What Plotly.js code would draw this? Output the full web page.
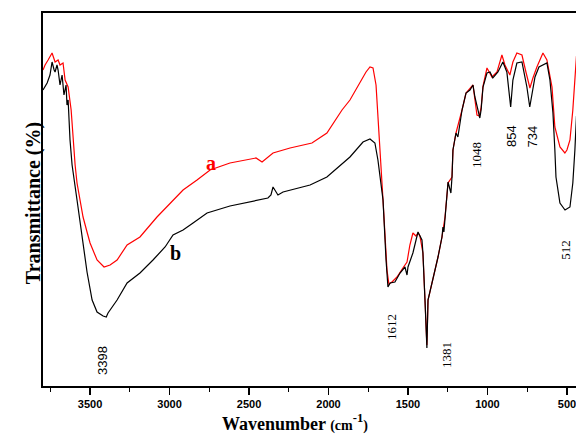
<!DOCTYPE html>
<html><head><meta charset="utf-8">
<script src="https://cdn.plot.ly/plotly-3.0.1.min.js"></script>
<style>html,body{margin:0;padding:0;background:#fff}#c{width:576px;height:434px}</style>
</head><body><div id="c"></div>
<script>
// Wavenumber (cm-1) and transmittance (arbitrary units)
const blackWn = [3796,3783,3770,3752,3739,3726,3720,3708,3701,3689,
 3676,3664,3651,3645,3638,3626,3613,3582,3563,3544,
 3519,3487,3456,3418,3398,3387,3330,3267,3186,3104,
 3028,2978,2915,2852,2764,2620,2431,2381,2362,2349,
 2318,2286,2116,2010,1865,1783,1739,1708,1689,1657,
 1638,1626,1612,1582,1550,1519,1506,1500,1469,1437,
 1412,1406,1393,1381,1374,1343,1311,1286,1280,1274,
 1267,1255,1248,1230,1223,1217,1198,1186,1160,1135,
 1110,1091,1079,1048,1040,1028,1003,984,966,934,
 903,878,854,840,815,783,752,734,720,701,
 676,651,626,607,588,576,569,544,512,481,
 463,450,440];
const blackT = [296,300,303,311,324,316,314,321,316,301,
 311,291,301,281,286,246,221,186,164,143,
 114,86,74,70,69,73,86,103,113,126,
 139,151,156,163,173,180,186,188,191,199,
 191,194,201,209,229,244,247,243,226,186,
 126,99,103,104,113,119,111,119,133,154,
 146,133,86,38,86,106,129,149,159,154,
 169,196,204,193,209,236,253,249,276,293,
 296,301,289,268,276,299,313,314,308,314,
 324,314,279,306,323,324,299,279,291,309,
 319,321,323,306,273,236,209,183,176,179,
 203,236,270];
const redWn = [3796,3783,3764,3752,3739,3720,3701,3689,3670,3657,
 3638,3619,3607,3594,3582,3563,3544,3519,3500,3456,
 3412,3374,3330,3267,3186,3079,2978,2915,2827,2745,
 2620,2494,2456,2418,2381,2349,2242,2104,2010,1915,
 1865,1802,1764,1739,1720,1701,1682,1657,1632,1620,
 1601,1569,1532,1506,1488,1469,1450,1437,1425,1406,
 1393,1381,1374,1343,1311,1286,1267,1248,1223,1217,
 1198,1160,1135,1091,1066,1052,1040,1028,1003,972,
 940,909,890,859,840,815,783,758,733,714,
 689,651,626,594,576,544,513,500,481,463,
 444,440];
const redT = [316,321,326,329,333,324,326,321,323,306,
 299,276,246,221,203,186,169,154,143,126,
 119,121,126,141,149,169,186,196,206,216,
 223,227,228,224,229,233,238,243,253,276,
 286,304,314,319,318,301,256,186,116,102,
 104,109,118,124,141,153,150,153,150,133,
 86,41,86,106,129,149,169,203,209,236,
 253,276,293,301,271,270,278,300,318,309,
 314,331,321,311,324,333,331,314,298,308,
 319,333,326,299,259,239,233,236,246,276,
 323,330];
const tickVals = [3500,3000,2500,2000,1500,1000,500];
const minorVals = [3750,3250,2750,2250,1750,1250,750];
const peakLabels = ["3398","1612","1381","1048","854","734","512"];
const peakX = [3425,1607,1261,1072,852,717,513];
const peakY = [26,59,31,231,250,250,136];
const peakFont = ["Liberation Sans","Liberation Serif","Liberation Serif","Liberation Serif","Liberation Sans","Liberation Sans","Liberation Serif"];

const traces = [
 {x: redWn, y: redT, type:'scatter', mode:'lines', line:{color:'#ff0000', width:1.2}, hoverinfo:'skip'},
 {x: blackWn, y: blackT, type:'scatter', mode:'lines', line:{color:'#000000', width:1.2}, hoverinfo:'skip'}
];
const ann = peakLabels.map((t,i)=>({x:peakX[i], y:peakY[i], xref:'x', yref:'y', text:t, showarrow:false, textangle:-90,
  font:{family:peakFont[i], size:13, color:'#000'}}));
ann.push({x:2739, y:223, xref:'x', yref:'y', text:'<b>a</b>', showarrow:false, font:{family:'Liberation Serif', size:20, color:'#ff0000'}});
ann.push({x:2965, y:133, xref:'x', yref:'y', text:'<b>b</b>', showarrow:false, font:{family:'Liberation Serif', size:20, color:'#000'}});
ann.push({x:-0.043, y:0.489, xref:'paper', yref:'paper', text:'<b>Transmittance (%)</b>', showarrow:false, textangle:-90,
  font:{family:'Liberation Serif', size:20, color:'#000'}});
ann.push({x:0.473, y:-0.097, xref:'paper', yref:'paper', yanchor:'middle', text:'<b>Wavenumber <span style="font-size:14px">(cm</span><sup>-1</sup><span style="font-size:14px">)</span></b>', showarrow:false,
  font:{family:'Liberation Serif', size:18, color:'#000'}});

const layout = {
 width:576, height:434, margin:{l:43, r:0, t:13, b:48},
 paper_bgcolor:'#fff', plot_bgcolor:'#fff', showlegend:false,
 xaxis:{range:[3796,443], showgrid:false, zeroline:false, showline:true, linecolor:'#000', linewidth:1.8, mirror:true,
   ticks:'outside', ticklen:7, tickwidth:1.3, tickcolor:'#000', tickvals:tickVals, ticklabeloverflow:'allow',
   minor:{tickvals:minorVals, ticks:'outside', ticklen:4, tickwidth:1.3, tickcolor:'#000'},
   tickfont:{family:'Liberation Sans', size:11, color:'#000', weight:'bold'}},
 yaxis:{range:[0,373], showgrid:false, zeroline:false, showline:true, linecolor:'#000', linewidth:1.8, mirror:false,
   ticks:'', showticklabels:false},
 annotations: ann
};
Plotly.newPlot('c', traces, layout, {staticPlot:true});
</script></body></html>
